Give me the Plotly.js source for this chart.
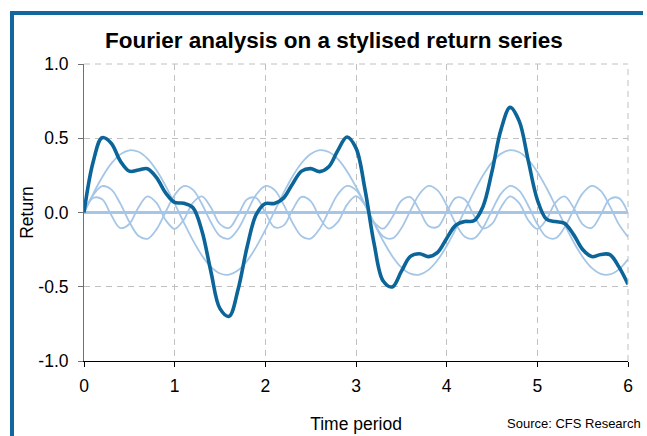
<!DOCTYPE html>
<html>
<head>
<meta charset="utf-8">
<script src="https://cdn.plot.ly/plotly-3.0.1.min.js"></script>
<style>
  html, body { margin: 0; padding: 0; background: #ffffff; }
  #wrap { position: relative; width: 647px; height: 436px; overflow: hidden; }
  #chart { position: absolute; left: 0; top: 0; width: 647px; height: 436px; }
  #frame { position: absolute; left: 10px; top: 11px; width: 629px; height: 430px;
           border-left: 4px solid #12679f; border-top: 4px solid #12679f; pointer-events: none; }
</style>
</head>
<body>
<div id="wrap">
  <div id="chart"></div>
  <div id="frame"></div>
</div>
<script>
// Time period (x)
const timePeriod = [0.0,0.1,0.2,0.3,0.4,0.5,0.6,0.7,0.8,0.9,1.0,1.1,1.2,1.3,1.4,1.5,1.6,1.7,1.8,1.9,2.0,2.1,2.2,2.3,2.4,2.5,2.6,2.7,2.8,2.9,3.0,3.1,3.2,3.3,3.4,3.5,3.6,3.7,3.8,3.9,4.0,4.1,4.2,4.3,4.4,4.5,4.6,4.7,4.8,4.9,5.0,5.1,5.2,5.3,5.4,5.5,5.6,5.7,5.8,5.9,6.0];

// Large, slow component (amplitude ~0.42)
const componentLarge = [0, 0.1241, 0.2371, 0.3290, 0.3914, 0.4190, 0.4090, 0.3625, 0.2837, 0.1795, 0.0593, -0.0662, -0.1859, -0.2889, -0.3661, -0.4106, -0.4184, -0.3888, -0.3246, -0.2313, -0.1174, 0.0071, 0.1308, 0.2429, 0.3334, 0.3940, 0.4194, 0.4074, 0.3590, 0.2785, 0.1731, 0.0523, -0.0732, -0.1922, -0.2940, -0.3695, -0.4120, -0.4178, -0.3862, -0.3201, -0.2254, -0.1106, 0.0141, 0.1375, 0.2486, 0.3376, 0.3964, 0.4197, 0.4056, 0.3552, 0.2731, 0.1667, 0.0453, -0.0801, -0.1984, -0.2990, -0.3728, -0.4133, -0.4169, -0.3833, -0.3154];

// Medium component (amplitude ~0.18)
const componentMedium = [0, 0.1160, 0.1774, 0.1554, 0.0603, -0.0631, -0.1569, -0.1769, -0.1136, 0.0030, 0.1183, 0.1779, 0.1538, 0.0574, -0.0660, -0.1584, -0.1763, -0.1113, 0.0060, 0.1205, 0.1783, 0.1522, 0.0546, -0.0688, -0.1598, -0.1756, -0.1089, 0.0091, 0.1228, 0.1787, 0.1506, 0.0517, -0.0716, -0.1611, -0.1749, -0.1064, 0.0121, 0.1249, 0.1790, 0.1489, 0.0488, -0.0743, -0.1625, -0.1742, -0.1040, 0.0151, 0.1271, 0.1793, 0.1472, 0.0458, -0.0771, -0.1637, -0.1734, -0.1015, 0.0181, 0.1292, 0.1796, 0.1454, 0.0429, -0.0798, -0.1650];

// Small, fast component (amplitude ~0.11)
const componentSmall = [0, 0.0980, 0.0889, -0.0174, -0.1047, -0.0776, 0.0343, 0.1087, 0.0643, -0.0503, -0.1100, -0.0495, 0.0651, 0.1086, 0.0333, -0.0783, -0.1044, -0.0164, 0.0895, 0.0976, -0.0010, -0.0985, -0.0884, 0.0183, 0.1050, 0.0769, -0.0352, -0.1089, -0.0636, 0.0512, 0.1100, 0.0486, -0.0659, -0.1084, -0.0324, 0.0790, 0.1041, 0.0154, -0.0901, -0.0971, 0.0020, 0.0989, 0.0878, -0.0193, -0.1053, -0.0762, 0.0361, 0.1090, 0.0627, -0.0521, -0.1100, -0.0477, 0.0667, 0.1082, 0.0315, -0.0797, -0.1037, -0.0145, 0.0906, 0.0967, -0.0029];

// Constant (zero) component
const componentZero = [0,0,0,0,0,0,0,0,0,0,0,0,0,0,0,0,0,0,0,0,0,0,0,0,0,0,0,0,0,0,0,0,0,0,0,0,0,0,0,0,0,0,0,0,0,0,0,0,0,0,0,0,0,0,0,0,0,0,0,0,0];

// Stylised return series (dark line)
const returnSeries = [0, 0.3381, 0.5034, 0.4670, 0.3470, 0.2783, 0.2864, 0.2943, 0.2344, 0.1322, 0.0676, 0.0622, 0.0330, -0.1229, -0.3988, -0.6473, -0.6991, -0.5165, -0.2291, -0.0132, 0.0599, 0.0608, 0.0970, 0.1924, 0.2786, 0.2953, 0.2753, 0.3076, 0.4182, 0.5084, 0.4337, 0.1526, -0.2107, -0.4617, -0.5013, -0.3969, -0.2958, -0.2775, -0.2973, -0.2683, -0.1746, -0.0860, -0.0606, -0.0560, 0.0393, 0.2765, 0.5596, 0.7080, 0.6155, 0.3489, 0.0860, -0.0447, -0.0614, -0.0734, -0.1488, -0.2495, -0.2969, -0.2824, -0.2834, -0.3664, -0.4833];

const yTickVals = [-1.0, -0.5, 0.0, 0.5, 1.0];
const yTickText = ['-1.0', '-0.5', '0.0', '0.5', '1.0'];
const xTickVals = [0, 1, 2, 3, 4, 5, 6];
const xTickText = ['0', '1', '2', '3', '4', '5', '6'];

const LIGHT = '#a5c6e6';
const DARK = '#0b6598';

function lightTrace(y) {
  return { x: timePeriod, y: y, type: 'scatter', mode: 'lines',
           line: { color: LIGHT, width: 1.8, shape: 'spline', smoothing: 1 },
           hoverinfo: 'skip', showlegend: false };
}

const traces = [
  lightTrace(componentLarge),
  lightTrace(componentMedium),
  lightTrace(componentSmall),
  { x: timePeriod, y: componentZero, type: 'scatter', mode: 'lines',
    line: { color: LIGHT, width: 3 }, showlegend: false },
  { x: timePeriod, y: returnSeries, type: 'scatter', mode: 'lines',
    line: { color: DARK, width: 3.6, shape: 'spline', smoothing: 1 }, showlegend: false }
];

const font = 'Liberation Sans, Arial, sans-serif';

const layout = {
  width: 647, height: 436,
  margin: { l: 84, r: 19, t: 64, b: 75, pad: 0 },
  paper_bgcolor: 'rgba(0,0,0,0)',
  plot_bgcolor: '#ffffff',
  showlegend: false,
  font: { family: font, size: 17.5, color: '#000000' },
  title: { text: '<b>Fourier analysis on a stylised return series</b>',
           font: { family: font, size: 22.5, color: '#000000' },
           x: 0.516, xanchor: 'center', y: 0.908, yanchor: 'middle' },
  xaxis: {
    range: [0, 6], tickvals: xTickVals, ticktext: xTickText,
    showgrid: true, gridcolor: '#c0c0c0', griddash: '6px,5px', gridwidth: 1,
    zeroline: false, showline: true, linecolor: '#000000', linewidth: 1,
    ticks: 'outside', ticklen: 5, tickcolor: '#000000', tickwidth: 1,
    tickfont: { family: font, size: 17.5 },
    ticklabelstandoff: 4,
    title: { text: 'Time period', font: { family: font, size: 17.5 }, standoff: 22 },
    fixedrange: true
  },
  yaxis: {
    range: [-1, 1], tickvals: yTickVals, ticktext: yTickText,
    showgrid: true, gridcolor: '#c0c0c0', griddash: '6px,5px', gridwidth: 1,
    zeroline: false, showline: true, linecolor: '#707070', linewidth: 1,
    ticks: 'outside', ticklen: 5, tickcolor: '#707070', tickwidth: 1,
    tickfont: { family: font, size: 17.5 },
    ticklabelstandoff: 6,
    title: { text: 'Return', font: { family: font, size: 17.5 }, standoff: 0 },
    fixedrange: true
  },
  shapes: [
    { type: 'line', xref: 'paper', yref: 'paper', x0: 0, x1: 1, y0: 1, y1: 1,
      line: { color: '#c0c0c0', width: 1, dash: '6px,5px' } },
    { type: 'line', xref: 'paper', yref: 'paper', x0: 1, x1: 1, y0: 0, y1: 1,
      line: { color: '#c0c0c0', width: 1, dash: '6px,5px' } }
  ],
  annotations: [
    { text: 'Source: CFS Research', xref: 'paper', yref: 'paper',
      x: (505 - 84) / 544, xanchor: 'left', y: -(423 - 361) / 297, yanchor: 'middle',
      showarrow: false, font: { family: font, size: 13, color: '#000000' } }
  ]
};

Plotly.newPlot('chart', traces, layout, { staticPlot: true, displayModeBar: false });
</script>
</body>
</html>
